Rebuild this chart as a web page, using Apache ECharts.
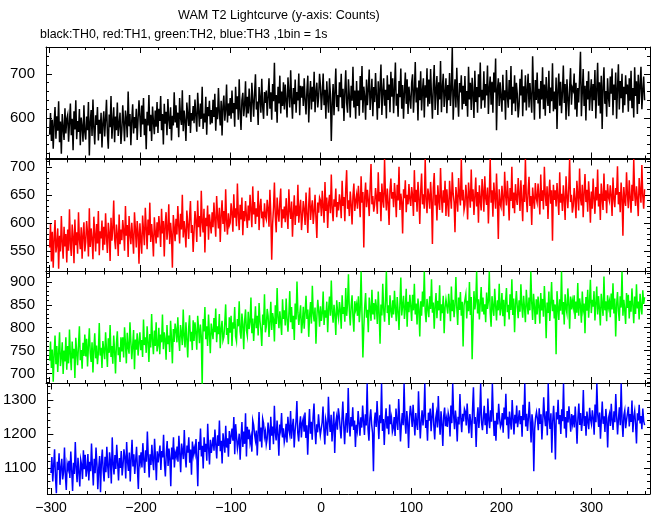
<!DOCTYPE html>
<html><head><meta charset="utf-8">
<script src="https://cdn.jsdelivr.net/npm/echarts@6/dist/echarts.min.js"></script>
<style>html,body{margin:0;padding:0;background:#fff}#c{width:652px;height:515px}</style>
</head><body><div id="c"></div>
<script>
const TITLE = 'WAM T2 Lightcurve (y-axis: Counts)';
const SUBTITLE = 'black:TH0, red:TH1, green:TH2, blue:TH3 ,1bin = 1s';
const T_START = -300;   // time of first bin (s)
const BIN = 1;          // 1bin = 1s

const xRange = [-304, 365];
const xMajorTicks = [-300, -200, -100, 0, 100, 200, 300];
const xMinorStep = 20;

const yRanges = [[508, 761], [514, 713], [679, 923], [1023, 1349]];
const yMajorTicks = [[600, 700], [550, 600, 650, 700], [700, 750, 800, 850, 900], [1100, 1200, 1300]];
const yMinorSteps = [20, 10, 10, 20];

// TH0 (black), counts per 1s bin
const th0 = [
562,611,548,596,530,587,625,553,604,571,638,545,592,519,609,576,550,622,565,598,
607,546,589,633,561,598,527,615,574,640,552,593,568,620,538,601,580,546,629,567,
551,603,572,636,515,590,618,559,642,577,540,606,584,625,549,596,564,612,533,588,
615,558,597,641,566,530,608,579,650,553,591,624,545,603,572,635,559,586,612,541,
572,629,590,547,617,598,556,660,581,609,538,594,631,565,602,577,621,550,598,640,
603,557,628,585,645,561,598,529,614,583,652,570,607,548,626,592,563,617,580,636,
566,621,593,650,572,609,540,632,587,614,561,643,597,575,624,549,605,583,658,590,
629,578,612,556,645,601,584,663,570,617,593,548,635,606,582,652,566,611,594,627,
588,642,605,569,657,616,580,633,598,671,575,610,590,648,562,625,604,639,585,618,
588,641,602,655,571,624,597,668,612,583,639,560,627,651,594,618,676,590,633,605,
645,598,662,611,634,580,671,620,649,596,688,615,573,640,657,604,629,683,601,648,
610,667,628,591,680,642,603,655,699,619,637,584,670,646,612,689,625,598,659,634,
662,605,649,690,621,658,596,677,638,725,614,652,589,671,633,696,610,660,627,681,
619,676,638,601,692,655,624,708,643,598,668,631,687,612,659,640,701,606,673,646,
672,627,690,641,608,663,696,590,650,684,619,671,637,705,613,659,680,624,648,700,
672,618,655,701,629,664,598,683,641,612,690,655,548,631,677,606,660,712,625,652,
615,681,647,700,622,666,593,659,708,634,612,688,650,601,673,639,716,624,662,598,
684,627,662,605,695,640,718,612,671,648,596,687,629,665,710,618,653,689,604,670,
636,702,651,596,683,622,669,721,607,658,690,628,664,599,697,641,676,613,705,648,
690,611,667,726,628,655,603,684,647,712,621,675,598,660,703,632,688,609,671,644,
621,680,699,612,658,727,635,669,594,685,640,706,617,662,690,601,674,646,713,626,
687,632,711,649,598,676,720,618,664,695,607,681,642,729,613,668,700,625,657,690,
611,675,640,702,627,668,760,596,655,688,624,714,645,603,679,658,697,619,673,632,
695,627,661,603,716,642,680,618,691,655,600,707,636,670,612,699,647,726,621,664,
640,706,623,677,651,719,609,668,694,630,682,612,703,658,735,572,664,690,627,681,
677,614,698,640,663,596,709,651,623,686,642,718,607,671,633,697,615,680,654,601,
628,689,651,710,604,672,635,697,617,663,700,624,679,645,612,740,658,596,686,641,
703,633,666,598,684,642,715,620,676,605,693,650,627,707,611,669,638,724,615,660,
620,692,575,664,701,628,682,611,657,719,634,677,596,688,645,604,670,713,630,668,
662,701,619,680,603,668,635,690,750,604,659,711,627,673,594,684,642,706,617,655,
688,616,677,640,709,599,663,725,628,681,610,696,575,670,715,632,661,603,690,647,
625,694,655,712,606,676,641,703,598,667,722,619,684,645,700,612,671,629,697,654,
676,614,690,639,707,622,668,601,715,650,683,609,698,632,674,716,620,661,694,640
];

// TH1 (red)
const th1 = [
556,598,531,584,520,571,605,547,562,590,518,577,549,612,565,536,593,558,580,529,
588,550,624,563,541,597,575,528,606,560,583,545,619,570,553,592,536,578,601,549,
566,603,582,540,626,557,590,571,535,611,580,549,598,563,621,542,585,572,604,551,
593,561,617,575,546,600,583,532,609,568,590,640,571,553,597,579,541,615,562,588,
569,605,586,550,630,577,596,539,612,581,562,600,574,545,619,590,556,603,583,527,
599,571,545,613,586,560,627,592,553,606,578,636,566,598,575,540,610,584,563,601,
574,612,590,557,625,581,603,540,596,619,570,588,633,562,600,578,520,614,592,567,
607,579,630,595,563,616,588,650,574,603,585,556,622,598,571,610,639,582,596,548,
585,621,603,566,640,592,612,575,657,600,583,625,547,609,594,631,570,615,598,581,
619,592,636,604,575,648,611,590,627,566,613,640,598,621,584,660,603,579,617,595,
600,635,618,584,651,609,626,594,670,615,587,632,606,645,578,621,603,639,612,591,
631,604,650,622,592,665,615,637,598,626,611,657,587,629,643,608,620,592,635,612,
606,641,625,593,659,617,534,598,627,672,611,583,645,620,602,637,661,591,624,608,
629,601,644,615,589,660,622,607,638,575,618,649,596,631,612,668,600,625,641,587,
611,639,623,596,654,617,582,632,663,605,626,640,598,620,650,609,573,636,618,645,
640,612,657,628,600,673,621,645,591,634,650,617,686,626,603,642,629,661,610,637,
622,651,637,608,675,630,646,603,660,694,625,640,612,656,633,597,648,670,621,639,
650,625,666,641,610,683,636,655,556,646,672,628,659,640,612,664,705,633,648,620,
632,662,645,616,690,638,655,603,670,641,627,714,650,622,661,636,596,658,679,643,
655,628,671,647,610,668,640,700,623,652,637,581,660,644,676,619,650,633,669,642,
630,664,648,612,694,637,659,620,673,646,598,656,688,633,651,625,714,642,617,661,
648,625,673,641,562,662,689,631,650,604,667,640,623,698,645,618,658,636,675,612,
660,634,611,675,647,625,690,652,637,583,664,645,620,680,649,631,714,640,659,622,
632,668,645,606,672,651,627,695,638,660,614,647,681,629,655,600,667,641,622,678,
655,620,683,644,632,663,599,650,714,636,658,611,672,647,625,688,640,571,660,634,
628,666,643,612,691,650,631,675,645,604,662,639,700,626,654,617,669,643,632,680,
652,621,676,640,603,668,637,714,645,619,657,682,630,648,596,663,641,625,671,644,
636,670,647,615,686,639,658,624,700,650,630,665,607,651,677,634,658,568,668,641,
658,629,671,645,614,690,636,652,621,667,643,605,683,648,626,661,714,637,650,618,
630,662,641,608,675,650,622,697,644,631,668,610,653,687,637,659,620,674,645,600,
656,625,679,643,616,664,640,695,629,652,605,670,645,623,688,639,658,617,669,646,
639,667,648,612,681,644,628,662,650,701,633,655,619,672,646,577,664,641,630,690,
651,626,676,645,618,668,639,714,652,630,665,643,612,680,655,636,703,648,625,660
];

// TH2 (green)
const th2 = [
728,770,712,752,682,741,783,720,760,703,745,790,716,735,768,699,750,726,779,708,
760,722,796,741,707,770,733,754,690,778,746,718,762,803,729,751,710,767,738,785,
737,776,715,760,799,744,725,768,702,752,788,733,761,720,745,810,739,756,712,771,
768,731,790,752,714,777,745,806,736,760,721,783,749,700,766,792,740,757,725,779,
748,779,735,801,766,722,789,757,743,812,770,731,760,795,709,774,752,788,739,768,
790,751,773,736,818,762,779,745,803,769,725,786,757,830,771,742,794,760,812,748,
761,800,742,785,768,829,753,790,775,730,806,764,783,747,815,776,722,797,769,809,
795,768,823,776,749,806,788,762,840,781,757,812,774,735,799,827,770,791,751,816,
771,812,789,752,826,798,766,807,781,670,819,792,845,775,803,760,829,787,744,809,
808,775,821,790,842,768,803,786,830,755,797,815,772,780,809,851,784,799,764,823,
789,826,760,812,798,845,781,770,819,803,858,792,776,831,808,753,815,840,794,782,
835,797,812,866,788,820,771,809,847,799,826,783,854,815,795,760,829,806,873,790,
802,841,826,780,813,857,795,832,818,770,849,808,887,823,799,836,811,784,862,819,
838,805,864,819,791,829,880,812,845,797,826,773,853,818,901,834,806,827,849,788,
811,846,798,833,870,819,840,780,827,856,809,892,831,814,844,765,823,861,837,802,
847,815,832,879,806,838,822,857,790,841,868,826,903,835,811,850,829,784,860,833,
820,856,839,798,871,830,845,813,887,826,852,917,836,805,848,871,823,791,858,840,
851,826,869,812,840,923,831,735,800,846,876,822,839,790,866,843,815,883,829,854,
818,862,845,808,879,833,765,851,827,896,840,813,858,923,832,849,806,871,838,822,
860,829,881,842,814,867,836,795,853,910,827,848,870,819,843,885,802,857,834,872,
847,815,872,838,896,829,853,807,864,840,781,858,826,879,846,923,835,812,863,842,
823,869,841,906,833,855,798,848,876,821,859,838,893,815,851,832,870,788,844,862,
858,831,874,847,814,890,836,861,823,850,911,843,806,866,839,878,826,857,759,849,
845,873,820,859,836,900,828,867,731,812,880,840,857,923,831,862,818,853,889,835,
866,829,851,812,877,841,858,923,833,802,869,845,826,885,848,816,860,838,896,827,
842,876,825,861,803,856,887,834,850,818,873,839,906,828,864,790,851,880,845,821,
860,835,895,848,822,870,843,812,883,851,829,866,838,923,855,817,874,846,808,862,
829,868,847,809,876,838,863,824,891,846,777,855,832,879,815,852,900,836,861,820,
851,742,880,845,817,862,837,923,829,856,807,873,842,831,886,853,798,868,840,859,
844,871,819,857,833,898,826,864,848,811,879,840,853,788,867,837,883,822,856,905,
832,861,846,880,816,853,890,829,869,842,805,874,849,826,912,838,858,814,871,845,
857,823,875,840,897,831,864,781,850,878,836,815,869,844,923,826,861,839,808,876,
843,872,820,859,835,886,849,810,868,830,895,842,857,818,874,846,829,882,852,867
];

// TH3 (blue)
const th3 = [
1085,1132,1060,1108,1155,1072,1025,1118,1094,1143,1050,1101,1127,1066,1089,1160,1078,1035,1112,1097,
1121,1070,1148,1093,1032,1115,1082,1176,1101,1058,1130,1088,1045,1124,1109,1067,1152,1096,1139,1074,
1095,1141,1063,1118,1090,1172,1105,1048,1127,1084,1160,1112,1037,1099,1135,1028,1119,1154,1091,1060,
1133,1087,1162,1105,1070,1146,1121,1054,1190,1112,1081,1138,1097,1168,1115,1063,1129,1100,1150,1078,
1108,1155,1132,1069,1176,1118,1091,1145,1060,1127,1183,1104,1140,1082,1121,1162,1095,1038,1137,1115,
1146,1101,1173,1125,1085,1152,1118,1207,1134,1072,1140,1109,1168,1122,1093,1186,1131,1064,1149,1116,
1120,1166,1094,1150,1131,1198,1112,1075,1143,1179,1106,1157,1129,1046,1160,1125,1190,1101,1144,1133,
1163,1118,1195,1141,1087,1172,1150,1126,1212,1137,1101,1166,1145,1190,1115,1154,1080,1178,1139,1158,
1142,1185,1130,1046,1177,1153,1216,1134,1165,1098,1190,1147,1171,1121,1230,1158,1110,1183,1144,1167,
1190,1151,1213,1168,1128,1196,1165,1240,1149,1180,1113,1202,1174,1145,1224,1160,1187,1133,1209,1171,
1168,1216,1180,1250,1140,1229,1193,1157,1176,1201,1124,1188,1235,1162,1207,1171,1261,1134,1221,1185,
1213,1174,1191,1148,1240,1226,1199,1181,1210,1137,1203,1265,1178,1219,1160,1245,1232,1192,1207,1169,
1186,1234,1210,1153,1251,1195,1222,1170,1283,1204,1181,1240,1199,1136,1228,1212,1262,1190,1217,1176,
1192,1230,1175,1251,1214,1199,1268,1186,1221,1245,1160,1209,1237,1297,1203,1178,1226,1252,1190,1233,
1245,1207,1263,1188,1226,1139,1219,1274,1201,1236,1183,1250,1290,1215,1170,1229,1205,1258,1222,1196,
1200,1234,1281,1212,1169,1243,1227,1195,1310,1238,1206,1257,1178,1221,1266,1144,1230,1249,1213,1276,
1254,1218,1187,1243,1296,1226,1170,1235,1262,1204,1336,1231,1193,1250,1222,1279,1212,1240,1162,1227,
1210,1268,1233,1195,1249,1219,1284,1238,1197,1258,1225,1349,1214,1180,1246,1273,1228,1203,1090,1236,
1263,1221,1297,1240,1185,1255,1232,1349,1209,1244,1168,1238,1276,1216,1252,1199,1287,1229,1247,1206,
1218,1250,1194,1275,1237,1212,1303,1245,1178,1229,1262,1226,1349,1240,1201,1268,1234,1159,1248,1283,
1257,1221,1286,1240,1196,1262,1230,1212,1326,1247,1187,1239,1270,1225,1253,1349,1218,1241,1180,1263,
1239,1275,1208,1250,1292,1226,1184,1245,1262,1219,1312,1238,1198,1267,1231,1165,1254,1278,1223,1245,
1221,1262,1248,1193,1284,1232,1349,1255,1214,1269,1240,1178,1251,1228,1318,1246,1205,1260,1237,1274,
1266,1225,1290,1243,1202,1259,1236,1188,1272,1338,1230,1250,1162,1244,1279,1218,1257,1349,1233,1211,
1249,1283,1226,1261,1200,1305,1242,1217,1270,1236,1349,1254,1194,1239,1180,1263,1228,1289,1246,1221,
1230,1262,1204,1278,1243,1319,1226,1251,1186,1266,1238,1213,1300,1247,1199,1257,1231,1284,1220,1244,
1270,1229,1253,1192,1286,1241,1349,1222,1260,1209,1247,1295,1236,1175,1258,1232,1090,1216,1249,1265,
1245,1211,1276,1230,1258,1184,1239,1308,1250,1223,1267,1196,1349,1242,1215,1261,1145,1237,1283,1228,
1125,1264,1243,1301,1229,1256,1200,1273,1238,1349,1216,1250,1189,1268,1234,1282,1245,1207,1259,1231,
1255,1219,1281,1236,1171,1248,1290,1227,1262,1209,1241,1330,1224,1253,1195,1266,1238,1214,1277,1243,
1229,1270,1246,1198,1287,1235,1349,1258,1221,1263,1186,1242,1296,1230,1252,1206,1274,1239,1160,1248,
1260,1224,1289,1240,1212,1267,1235,1318,1251,1199,1245,1279,1226,1349,1238,1191,1256,1270,1217,1242,
1247,1280,1222,1259,1236,1299,1205,1250,1268,1228,1172,1261,1240,1286,1231,1253,1214,1275,1238,1226
];

const seriesValues = [th0, th1, th2, th3];
const seriesNames = ['TH0', 'TH1', 'TH2', 'TH3'];
const seriesColors = ['#000000', '#ff0000', '#00ff00', '#0000ff'];

// ---- layout ----
const FONT = '"Liberation Sans", Arial, Helvetica, sans-serif';
const GRID_LEFT = 46, GRID_RIGHT = 2;
const gridTops = [47, 159.5, 271.5, 383.5];
const gridHeights = [111.5, 111.5, 111.5, 112];
const MAJOR_LEN = 6, MINOR_LEN = 3;

function stepTicks(min, max, step) {
  const out = [];
  for (let v = Math.ceil(min / step) * step; v <= max; v += step) out.push(v);
  return out;
}
const minusFmt = v => String(v).replace('-', '\u2212');
const plainFmt = v => String(v);

const grids = [], xAxes = [], yAxes = [], series = [];
const xMinorTicks = stepTicks(xRange[0], xRange[1], xMinorStep);

for (let i = 0; i < 4; i++) {
  grids.push({ left: GRID_LEFT, right: GRID_RIGHT, top: gridTops[i], height: gridHeights[i], containLabel: false });
  const lastPanel = i === 3;
  const mkX = (pos, ticks, len, line, label) => ({
    type: 'value', gridIndex: i, position: pos, min: xRange[0], max: xRange[1],
    axisLine: { show: line, onZero: false, lineStyle: { color: '#000', width: 1 } },
    axisTick: { show: true, inside: true, length: len, customValues: ticks, lineStyle: { color: '#000', width: 1 } },
    axisLabel: { show: label, customValues: ticks, margin: 7, color: '#000', fontSize: 14, fontFamily: FONT, formatter: minusFmt },
    splitLine: { show: false }, minorTick: { show: false }
  });
  xAxes.push(mkX('bottom', xMajorTicks, MAJOR_LEN, true, lastPanel));
  xAxes.push(mkX('bottom', xMinorTicks, MINOR_LEN, false, false));
  xAxes.push(mkX('top', xMajorTicks, MAJOR_LEN, true, false));
  xAxes.push(mkX('top', xMinorTicks, MINOR_LEN, false, false));

  const [ymin, ymax] = yRanges[i];
  const yMinor = stepTicks(ymin, ymax, yMinorSteps[i]);
  const mkY = (pos, ticks, len, line, label) => ({
    type: 'value', gridIndex: i, position: pos, min: ymin, max: ymax, scale: true,
    axisLine: { show: line, onZero: false, lineStyle: { color: '#000', width: 1 } },
    axisTick: { show: true, inside: true, length: len, customValues: ticks, lineStyle: { color: '#000', width: 1 } },
    axisLabel: { show: label, customValues: ticks, margin: 11, color: '#000', fontSize: 15, fontFamily: FONT, formatter: plainFmt },
    splitLine: { show: false }, minorTick: { show: false }
  });
  yAxes.push(mkY('left', yMajorTicks[i], MAJOR_LEN, true, true));
  yAxes.push(mkY('left', yMinor, MINOR_LEN, false, false));
  yAxes.push(mkY('right', yMajorTicks[i], MAJOR_LEN, true, false));
  yAxes.push(mkY('right', yMinor, MINOR_LEN, false, false));

  const vals = seriesValues[i];
  series.push({
    name: seriesNames[i], type: 'line', xAxisIndex: 4 * i, yAxisIndex: 4 * i,
    data: vals.map((v, k) => [T_START + k * BIN, v]),
    showSymbol: false, symbol: 'none', sampling: null, clip: true, silent: true,
    lineStyle: { width: 1.5, color: seriesColors[i], join: 'miter' }, itemStyle: { color: seriesColors[i] },
    animation: false
  });
}

const chart = echarts.init(document.getElementById('c'), null, { renderer: 'canvas' });
chart.setOption({
  animation: false,
  backgroundColor: '#ffffff',
  grid: grids, xAxis: xAxes, yAxis: yAxes, series: series,
  graphic: [
    { type: 'text', silent: true, style: { text: TITLE, x: 178, y: 16, verticalAlign: 'middle', fill: '#000', fontSize: 12.6, fontFamily: FONT } },
    { type: 'text', silent: true, style: { text: SUBTITLE, x: 40, y: 34.5, verticalAlign: 'middle', fill: '#000', fontSize: 12.4, fontFamily: FONT } }
  ]
});
</script>
</body></html>
